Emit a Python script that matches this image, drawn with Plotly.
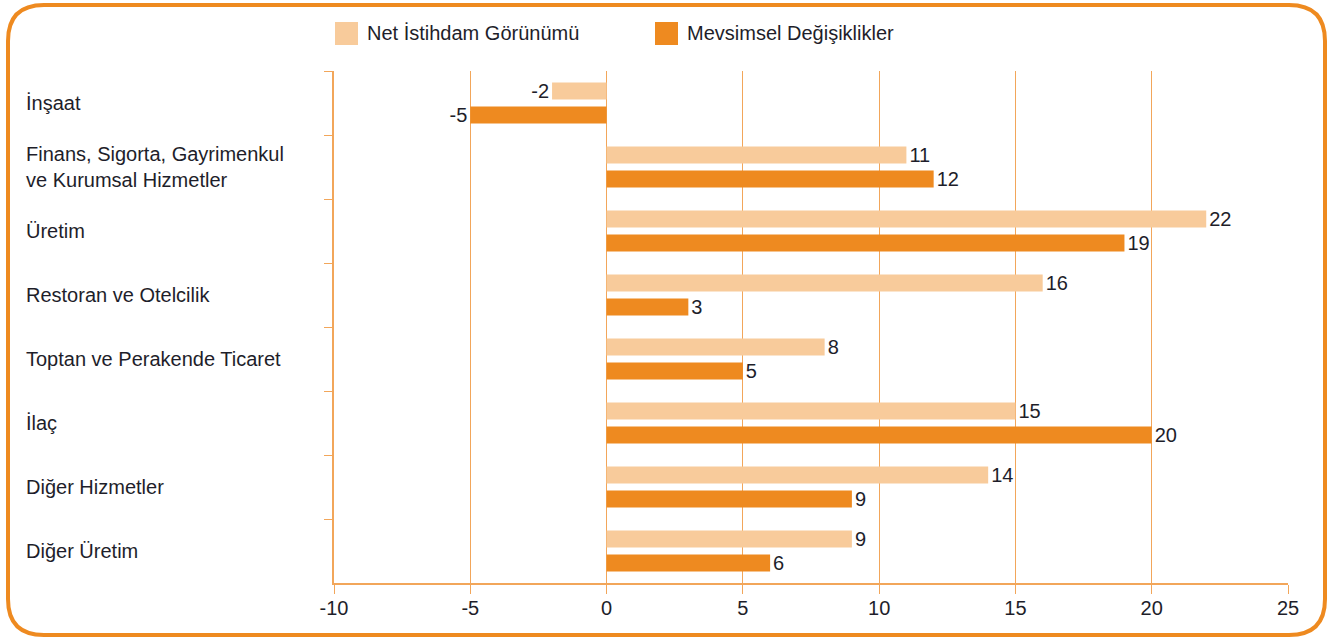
import plotly.graph_objects as go

categories = ["İnşaat", "Finans, Sigorta, Gayrimenkul<br>ve Kurumsal Hizmetler", "Üretim",
              "Restoran ve Otelcilik", "Toptan ve Perakende Ticaret", "İlaç",
              "Diğer Hizmetler", "Diğer Üretim"]
net_values = [-2, 11, 22, 16, 8, 15, 14, 9]
seasonal_values = [-5, 12, 19, 3, 5, 20, 9, 6]
series_names = ["Net İstihdam Görünümü", "Mevsimsel Değişiklikler"]
x_ticks = [-10, -5, 0, 5, 10, 15, 20, 25]

LIGHT = "#F8CB9B"
DARK = "#EE8A20"
GRID = "#F2A65A"
TXT = "#1E1E2A"
FONT = "Liberation Sans"
FS = 20

W, H = 1332, 639
L, R, T, B = 334, 44, 71, 56
pw, ph = W - L - R, H - T - B

def px(x):
    return (x - L) / pw

def py(y):
    return (H - B - y) / ph

fig = go.Figure()
for name, vals, col in [(series_names[0], net_values, LIGHT), (series_names[1], seasonal_values, DARK)]:
    fig.add_trace(go.Bar(
        y=categories, x=vals, orientation="h", name=name, marker=dict(color=col, line=dict(width=0)),
        text=[str(v) for v in vals], textposition="outside", cliponaxis=False,
        constraintext="none", textangle=0,
        textfont=dict(family=FONT, size=FS, color=TXT), showlegend=False))

fig.update_layout(
    width=W, height=H, margin=dict(l=L, r=R, t=T, b=B),
    paper_bgcolor="white", plot_bgcolor="white",
    barmode="group", bargap=0.25, bargroupgap=0.29,
    font=dict(family=FONT, size=FS, color=TXT),
    xaxis=dict(range=[-10, 25], tickvals=x_ticks, ticktext=[str(t) for t in x_ticks],
               showgrid=True, gridcolor=GRID, gridwidth=1, zeroline=False,
               showline=True, linecolor=GRID, linewidth=1.5,
               ticks="outside", ticklen=9, tickcolor=GRID, ticklabelstandoff=-3,
               tickfont=dict(family=FONT, size=FS, color=TXT)),
    yaxis=dict(autorange="reversed", showticklabels=False, showgrid=False, zeroline=False,
               showline=True, linecolor=GRID, linewidth=1.5,
               ticks="outside", ticklen=8, tickcolor=GRID, tickson="boundaries"),
)

for c in categories:
    fig.add_annotation(x=px(24), xref="paper", y=c, yref="y", text=c, showarrow=False,
                       xanchor="left", align="left", font=dict(family=FONT, size=FS, color=TXT))

# legend
for (x0, name, col) in [(335, series_names[0], LIGHT), (655, series_names[1], DARK)]:
    fig.add_shape(type="rect", xref="paper", yref="paper",
                  x0=px(x0), x1=px(x0 + 23), y0=py(45), y1=py(22),
                  fillcolor=col, line=dict(width=0))
    fig.add_annotation(x=px(x0 + 30), y=py(33), xref="paper", yref="paper", text=name,
                       showarrow=False, xanchor="left", yanchor="middle",
                       font=dict(family=FONT, size=FS, color=TXT))

# rounded border
x0b, x1b, y0b, y1b, r = 8, 1325, 5, 635, 36
pts = (f"M {px(x0b + r)},{py(y0b)} L {px(x1b - r)},{py(y0b)} "
       f"Q {px(x1b)},{py(y0b)} {px(x1b)},{py(y0b + r)} "
       f"L {px(x1b)},{py(y1b - r)} Q {px(x1b)},{py(y1b)} {px(x1b - r)},{py(y1b)} "
       f"L {px(x0b + r)},{py(y1b)} Q {px(x0b)},{py(y1b)} {px(x0b)},{py(y1b - r)} "
       f"L {px(x0b)},{py(y0b + r)} Q {px(x0b)},{py(y0b)} {px(x0b + r)},{py(y0b)} Z")
fig.add_shape(type="path", xref="paper", yref="paper", path=pts,
              line=dict(color=DARK, width=4), fillcolor="rgba(0,0,0,0)")

fig.write_html("out.html", config={"displayModeBar": False},
               post_script="document.body.style.margin='0';document.body.style.padding='0';")
